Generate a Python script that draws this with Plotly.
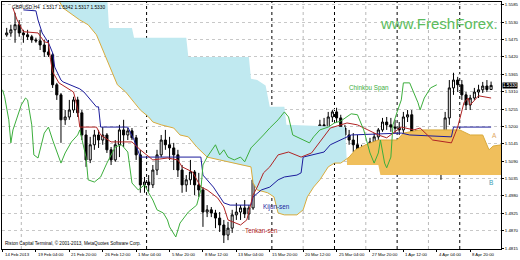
import plotly.graph_objects as go

# ---------------- data (bar index = H4 bar counted from 14 Feb 2013 12:00) ----------------
label_bars = [0, 16, 32, 48, 64, 80, 96, 112, 128, 144, 160, 176, 192, 208, 224]
label_text = ["14 Feb 2013", "19 Feb 04:00", "21 Feb 20:00", "26 Feb 12:00", "1 Mar 04:00",
              "5 Mar 20:00", "8 Mar 12:00", "13 Mar 04:00", "15 Mar 20:00", "20 Mar 12:00",
              "25 Mar 04:00", "27 Mar 20:00", "1 Apr 12:00", "4 Apr 04:00", "8 Apr 20:00"]
separator_bars = [69, 129, 159, 189, 219]
light_grid_bars = [9, 144, 174, 204]

price_labels = ["1.4815", "1.4870", "1.4925", "1.4980", "1.5035", "1.5090", "1.5145", "1.5200",
                "1.5255", "1.5310", "1.5365", "1.5420", "1.5475", "1.5530", "1.5585"]

candle_bar = list(range(2, 235, 2))
opens = [1.5490, 1.5496, 1.5506, 1.5522, 1.5496, 1.5490, 1.5484, 1.5474, 1.5471, 1.5458,
         1.5436, 1.5427, 1.5332, 1.5300, 1.5221, 1.5230, 1.5252, 1.5284, 1.5243, 1.5173,
         1.5094, 1.5142, 1.5173, 1.5157, 1.5173, 1.5126, 1.5094, 1.5142, 1.5189, 1.5173,
         1.5186, 1.5164, 1.5110, 1.5015, 1.5024, 1.5015, 1.5062, 1.5110, 1.5157, 1.5142,
         1.5132, 1.5110, 1.5062, 1.5015, 1.5031, 1.5056, 1.5015, 1.4999, 1.4929, 1.4936,
         1.4926, 1.4910, 1.4888, 1.4856, 1.4878, 1.4920, 1.4929, 1.4942, 1.4923, 1.4942,
         1.5031, 1.5119, 1.5110, 1.5126, 1.5100, 1.5078, 1.5110, 1.5119, 1.5103, 1.5110,
         1.5100, 1.5078, 1.5142, 1.5157, 1.5167, 1.5183, 1.5205, 1.5189, 1.5230, 1.5246,
         1.5227, 1.5195, 1.5173, 1.5157, 1.5142, 1.5126, 1.5110, 1.5126, 1.5151, 1.5167,
         1.5189, 1.5214, 1.5205, 1.5198, 1.5195, 1.5189, 1.5230, 1.5237, 1.5173, 1.5110,
         1.5088, 1.5142, 1.5148, 1.5126, 1.5062, 1.5103, 1.5227, 1.5322, 1.5347, 1.5332,
         1.5300, 1.5268, 1.5290, 1.5309, 1.5316, 1.5328, 1.5317]
highs = [1.5512, 1.5522, 1.5560, 1.5537, 1.5506, 1.5506, 1.5490, 1.5481, 1.5506, 1.5474,
         1.5474, 1.5433, 1.5338, 1.5306, 1.5252, 1.5284, 1.5294, 1.5294, 1.5252, 1.5189,
         1.5167, 1.5189, 1.5189, 1.5198, 1.5179, 1.5135, 1.5157, 1.5205, 1.5221, 1.5195,
         1.5195, 1.5173, 1.5126, 1.5040, 1.5046, 1.5078, 1.5126, 1.5173, 1.5189, 1.5167,
         1.5148, 1.5126, 1.5078, 1.5046, 1.5094, 1.5062, 1.5053, 1.5008, 1.4951, 1.4945,
         1.4936, 1.4929, 1.4904, 1.4898, 1.4936, 1.4958, 1.4951, 1.4967, 1.4951, 1.5046,
         1.5135, 1.5148, 1.5148, 1.5142, 1.5135, 1.5126, 1.5135, 1.5132, 1.5116, 1.5126,
         1.5126, 1.5157, 1.5189, 1.5179, 1.5198, 1.5221, 1.5227, 1.5246, 1.5252, 1.5259,
         1.5237, 1.5205, 1.5189, 1.5179, 1.5173, 1.5142, 1.5132, 1.5164, 1.5179, 1.5195,
         1.5227, 1.5230, 1.5227, 1.5221, 1.5214, 1.5246, 1.5252, 1.5252, 1.5189, 1.5126,
         1.5157, 1.5164, 1.5164, 1.5142, 1.5126, 1.5246, 1.5347, 1.5370, 1.5357, 1.5347,
         1.5309, 1.5300, 1.5322, 1.5332, 1.5341, 1.5347, 1.5342]
lows = [1.5484, 1.5484, 1.5465, 1.5484, 1.5465, 1.5474, 1.5465, 1.5465, 1.5442, 1.5420,
        1.5420, 1.5322, 1.5284, 1.5148, 1.5205, 1.5221, 1.5243, 1.5230, 1.5157, 1.5072,
        1.5084, 1.5126, 1.5132, 1.5142, 1.5116, 1.5078, 1.5088, 1.5103, 1.5135, 1.5157,
        1.5157, 1.5094, 1.4990, 1.4990, 1.4993, 1.5005, 1.5046, 1.5103, 1.5126, 1.5094,
        1.5062, 1.5040, 1.4990, 1.4993, 1.5015, 1.4983, 1.4977, 1.4882, 1.4913, 1.4913,
        1.4878, 1.4866, 1.4831, 1.4840, 1.4863, 1.4904, 1.4904, 1.4910, 1.4904, 1.4936,
        1.5024, 1.5084, 1.5094, 1.5088, 1.5062, 1.5069, 1.5094, 1.5094, 1.5088, 1.5088,
        1.5040, 1.5069, 1.5126, 1.5132, 1.5157, 1.5167, 1.5173, 1.5183, 1.5214, 1.5214,
        1.5183, 1.5157, 1.5142, 1.5119, 1.5103, 1.5103, 1.5103, 1.5119, 1.5142, 1.5157,
        1.5183, 1.5189, 1.5183, 1.5179, 1.5173, 1.5179, 1.5214, 1.5157, 1.5100, 1.5072,
        1.5078, 1.5110, 1.5116, 1.5046, 1.5031, 1.5094, 1.5205, 1.5300, 1.5309, 1.5284,
        1.5252, 1.5252, 1.5284, 1.5290, 1.5306, 1.5309, 1.5317]
closes = [1.5496, 1.5506, 1.5522, 1.5496, 1.5490, 1.5484, 1.5474, 1.5471, 1.5458, 1.5436,
          1.5427, 1.5332, 1.5300, 1.5221, 1.5230, 1.5252, 1.5284, 1.5243, 1.5173, 1.5094,
          1.5142, 1.5173, 1.5157, 1.5173, 1.5126, 1.5094, 1.5142, 1.5189, 1.5173, 1.5186,
          1.5164, 1.5110, 1.5015, 1.5024, 1.5015, 1.5062, 1.5110, 1.5157, 1.5142, 1.5132,
          1.5110, 1.5062, 1.5015, 1.5031, 1.5056, 1.5015, 1.4999, 1.4929, 1.4936, 1.4926,
          1.4910, 1.4888, 1.4856, 1.4878, 1.4920, 1.4929, 1.4942, 1.4923, 1.4942, 1.5031,
          1.5119, 1.5110, 1.5126, 1.5100, 1.5078, 1.5110, 1.5119, 1.5103, 1.5110, 1.5100,
          1.5078, 1.5142, 1.5157, 1.5167, 1.5183, 1.5205, 1.5189, 1.5230, 1.5246, 1.5227,
          1.5195, 1.5173, 1.5157, 1.5142, 1.5126, 1.5110, 1.5126, 1.5151, 1.5167, 1.5189,
          1.5214, 1.5205, 1.5198, 1.5195, 1.5189, 1.5230, 1.5237, 1.5173, 1.5110, 1.5088,
          1.5142, 1.5148, 1.5126, 1.5062, 1.5103, 1.5227, 1.5322, 1.5347, 1.5332, 1.5300,
          1.5268, 1.5290, 1.5309, 1.5316, 1.5328, 1.5317, 1.5330]

tenkan_bar = [5, 7, 10, 17, 20, 22, 23, 24, 27, 31, 34, 35, 36, 37, 45, 47, 52, 62, 66, 72,
              79, 84, 86, 91, 95, 98, 103, 106, 108, 114, 117, 120, 122, 125, 128, 132, 137, 143, 148, 152,
              157, 165, 170, 175, 180, 184, 191, 197, 200, 206, 215, 218, 221, 223, 224, 228, 234]
tenkan = [1.5575, 1.5537, 1.5500, 1.5496, 1.5468, 1.5465, 1.5411, 1.5373, 1.5338, 1.5322,
          1.5309, 1.5284, 1.5252, 1.5198, 1.5198, 1.5173, 1.5151, 1.5151, 1.5126, 1.5094,
          1.5100, 1.5094, 1.5072, 1.5056, 1.5008, 1.4999, 1.4974, 1.4945, 1.4904, 1.4888,
          1.4904, 1.4983, 1.5008, 1.5053, 1.5072, 1.5110, 1.5119, 1.5103, 1.5116, 1.5151,
          1.5195, 1.5211, 1.5205, 1.5189, 1.5173, 1.5164, 1.5198, 1.5189, 1.5195, 1.5157,
          1.5148, 1.5198, 1.5275, 1.5290, 1.5268, 1.5297, 1.5290]

kijun_bar = [10, 16, 17, 19, 22, 24, 25, 28, 29, 37, 39, 41, 45, 46, 47, 60, 63, 66, 95, 96,
             101, 106, 109, 119, 120, 124, 128, 132, 135, 141, 143, 144, 148, 154, 157, 162, 167, 191, 195, 215,
             216, 234]
kijun = [1.5569, 1.5566, 1.5537, 1.5496, 1.5465, 1.5433, 1.5388, 1.5347, 1.5341, 1.5319,
         1.5309, 1.5294, 1.5262, 1.5262, 1.5198, 1.5198, 1.5157, 1.5103, 1.5103, 1.5046,
         1.5008, 1.4958, 1.4951, 1.4951, 1.4977, 1.4999, 1.5008, 1.5031, 1.5040, 1.5046,
         1.5053, 1.5103, 1.5110, 1.5119, 1.5142, 1.5157, 1.5173, 1.5179, 1.5173, 1.5167,
         1.5198, 1.5198]

chinkou_bar = [0, 1, 3, 4, 5, 7, 9, 11, 12, 14, 15, 17, 20, 22, 24, 28, 30, 33, 36, 37,
               40, 41, 44, 47, 50, 54, 57, 60, 62, 65, 68, 70, 72, 74, 77, 79, 80, 83, 85, 89,
               93, 95, 96, 98, 101, 102, 104, 106, 108, 111, 114, 116, 119, 122, 125, 128, 132, 135, 137, 139,
               143, 147, 149, 152, 156, 159, 162, 167, 170, 173, 176, 178, 180, 181, 183, 184, 186, 187, 189, 191,
               192, 195, 199, 200, 202, 205, 208]
chinkou = [1.5316, 1.5294, 1.5221, 1.5148, 1.5189, 1.5227, 1.5268, 1.5290, 1.5284, 1.5205,
           1.5110, 1.5100, 1.5179, 1.5198, 1.5157, 1.5084, 1.5116, 1.5151, 1.5173, 1.5189,
           1.5103, 1.5031, 1.5024, 1.5040, 1.5084, 1.5135, 1.5142, 1.5119, 1.5021, 1.4999,
           1.5015, 1.4990, 1.4967, 1.4936, 1.4926, 1.4904, 1.4882, 1.4850, 1.4894, 1.4929,
           1.4951, 1.4999, 1.5078, 1.5103, 1.5135, 1.5142, 1.5110, 1.5126, 1.5103, 1.5094,
           1.5103, 1.5088, 1.5132, 1.5151, 1.5173, 1.5195, 1.5221, 1.5246, 1.5230, 1.5173,
           1.5160, 1.5148, 1.5167, 1.5189, 1.5198, 1.5211, 1.5217, 1.5240, 1.5237, 1.5189,
           1.5116, 1.5084, 1.5116, 1.5157, 1.5084, 1.5069, 1.5103, 1.5205, 1.5246, 1.5284,
           1.5338, 1.5338, 1.5275, 1.5252, 1.5290, 1.5322, 1.5332]

span_a_bar = [26, 29, 37, 41, 45, 47, 50, 53, 55, 59, 63, 66, 70, 72, 76, 82, 85, 89, 93, 98, 104,
              114, 119, 120, 122, 127, 130, 132, 135, 141, 144, 146, 149, 152, 156, 159, 162, 165, 166, 169, 174,
              180, 189, 192, 200, 219, 224, 230, 233, 235, 239]
span_a = [1.5610, 1.5575, 1.5537, 1.5522, 1.5490, 1.5458, 1.5411, 1.5363, 1.5332, 1.5309, 1.5278,
          1.5252, 1.5230, 1.5214, 1.5205, 1.5195, 1.5173, 1.5167, 1.5135, 1.5103, 1.5094,
          1.5078, 1.5072, 1.5021, 1.4999, 1.4990, 1.4977, 1.4926, 1.4920, 1.4920, 1.4936,
          1.4977, 1.5008, 1.5031, 1.5072, 1.5084, 1.5084, 1.5098, 1.5103, 1.5126, 1.5142,
          1.5157, 1.5157, 1.5179, 1.5189, 1.5189, 1.5173, 1.5173, 1.5126, 1.5138, 1.5142]

span_b_bar = [26, 50, 51, 62, 63, 88, 89, 118, 119, 122, 126, 128, 135, 136, 164, 165, 180, 181, 239]
span_b = [1.5625, 1.5625, 1.5512, 1.5512, 1.5481, 1.5481, 1.5420, 1.5420, 1.5351, 1.5347,
          1.5330, 1.5262, 1.5262, 1.5205, 1.5198, 1.5078, 1.5078, 1.5046, 1.5046]

cross_bar = 165
last_price = 1.5330

# ---------------- figure ----------------
fig = go.Figure()

a_left = [(x, y) for x, y in zip(span_a_bar, span_a) if x <= cross_bar]
b_left = [(x, y) for x, y in zip(span_b_bar, span_b) if x <= cross_bar]
a_right = [(x, y) for x, y in zip(span_a_bar, span_a) if x >= cross_bar]
b_right = [(x, y) for x, y in zip(span_b_bar, span_b) if x >= cross_bar]

def polygon(upper, lower):
    pts = upper + lower[::-1]
    return [p[0] for p in pts], [p[1] for p in pts]

bx, by = polygon(b_left, a_left)
fig.add_trace(go.Scatter(x=bx, y=by, fill="toself", mode="none",
                         fillcolor="#c0e9f0", hoverinfo="skip"))
ox, oy = polygon(a_right, b_right)
fig.add_trace(go.Scatter(x=ox, y=oy, fill="toself", mode="none",
                         fillcolor="#f0bf5c", hoverinfo="skip"))

fig.add_trace(go.Scatter(x=span_a_bar, y=span_a, mode="lines",
                         line=dict(color="#d9ab3c", width=1), hoverinfo="skip"))

fig.add_trace(go.Candlestick(
    x=candle_bar, open=opens, high=highs, low=lows, close=closes,
    increasing=dict(line=dict(color="black", width=1), fillcolor="white"),
    decreasing=dict(line=dict(color="black", width=1), fillcolor="black"),
    whiskerwidth=0, hoverinfo="skip"))

fig.add_trace(go.Scatter(x=kijun_bar, y=kijun, mode="lines",
                         line=dict(color="#1c1c9c", width=1), hoverinfo="skip"))
fig.add_trace(go.Scatter(x=tenkan_bar, y=tenkan, mode="lines",
                         line=dict(color="#b02424", width=1), hoverinfo="skip"))
fig.add_trace(go.Scatter(x=chinkou_bar, y=chinkou, mode="lines",
                         line=dict(color="#3cae3c", width=1), hoverinfo="skip"))

shapes = []
for b in separator_bars:
    shapes.append(dict(type="line", xref="x", yref="paper", x0=b, x1=b, y0=0, y1=1,
                       line=dict(color="black", width=1, dash="dot"), layer="below"))
for b in light_grid_bars:
    shapes.append(dict(type="line", xref="x", yref="paper", x0=b, x1=b, y0=0, y1=1,
                       line=dict(color="#b8b8b8", width=1, dash="dot"), layer="below"))

annotations = []
for b, t in zip(label_bars, label_text):
    annotations.append(dict(x=b, y=0, xref="x", yref="paper", text=t, showarrow=False,
                            xanchor="left", yanchor="top", yshift=-1,
                            font=dict(size=4.3, color="black")))
annotations += [
    dict(x=0.016, y=1, xref="paper", yref="paper", text="GBPUSD,H4  1.5317 1.5342 1.5317 1.5330",
         showarrow=False, xanchor="left", yanchor="top", yshift=-1, font=dict(size=4.8, color="black")),
    dict(x=0.002, y=0, xref="paper", yref="paper",
         text="Riston Capital Terminal, © 2001-2013, MetaQuotes Software Corp.",
         showarrow=False, xanchor="left", yanchor="bottom", yshift=1, font=dict(size=4.6, color="black")),
    dict(x=179.6, y=1.5525, xref="x", yref="y", text="www.FreshForex.", showarrow=False,
         xanchor="left", yanchor="middle", font=dict(size=15, color="#5cbc5c")),
    dict(x=165, y=1.5322, xref="x", yref="y", text="Chinkou Span", showarrow=False,
         xanchor="left", yanchor="middle", font=dict(size=6.3, color="#3cae3c")),
    dict(x=124, y=1.4945, xref="x", yref="y", text="Kijun-sen", showarrow=False,
         xanchor="left", yanchor="middle", font=dict(size=6.3, color="#1c1c9c")),
    dict(x=115, y=1.4872, xref="x", yref="y", text="Tenkan-sen", showarrow=False,
         xanchor="left", yanchor="middle", font=dict(size=6.3, color="#b02424")),
    dict(x=235.5, y=1.5170, xref="x", yref="y", text="A", showarrow=False,
         xanchor="center", yanchor="middle", font=dict(size=6.5, color="#e0a860")),
    dict(x=233.8, y=1.5021, xref="x", yref="y", text="B", showarrow=False,
         xanchor="center", yanchor="middle", font=dict(size=6.5, color="#3a9cb4")),
    dict(x=1, y=last_price, xref="paper", yref="y", text=f"{last_price:.4f}", showarrow=False,
         xanchor="left", yanchor="middle", xshift=1, bgcolor="black", borderpad=0,
         font=dict(size=4.6, color="white")),
]

fig.update_layout(
    width=520, height=260,
    margin=dict(l=2, r=19, t=2, b=11, pad=0),
    paper_bgcolor="white", plot_bgcolor="white",
    showlegend=False,
    font=dict(family="Liberation Sans", size=5, color="black"),
    shapes=shapes, annotations=annotations,
    xaxis=dict(range=[-0.25, 238.75], showgrid=False, zeroline=False,
               showline=True, mirror=True, linecolor="black", linewidth=1,
               tickvals=label_bars, showticklabels=False, ticks="outside",
               ticklen=2, tickcolor="black", automargin=False,
               rangeslider=dict(visible=False), fixedrange=True),
    yaxis=dict(range=[1.4812, 1.5594], side="right",
               tickvals=[float(p) for p in price_labels], ticktext=price_labels,
               tickfont=dict(size=4.3, color="black"),
               showgrid=True, gridcolor="#c8c8c8", griddash="dot", gridwidth=1,
               zeroline=False, showline=True, mirror=True, linecolor="black", linewidth=1,
               ticks="outside", ticklen=2, tickcolor="black", automargin=False,
               fixedrange=True),
)

fig.write_html("out.html")
